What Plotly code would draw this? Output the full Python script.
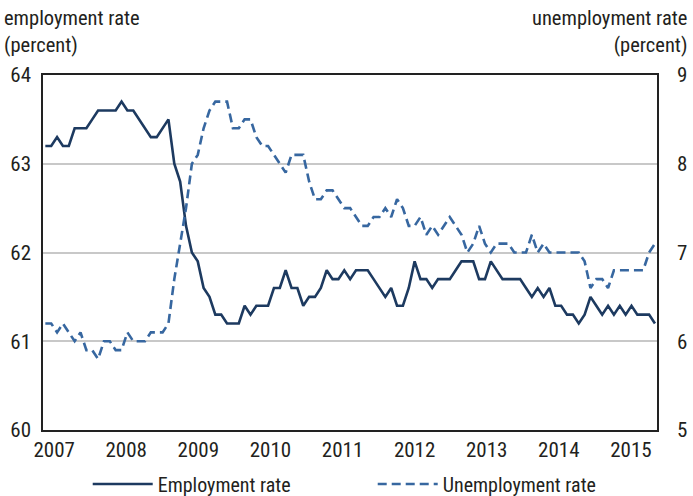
import plotly.graph_objects as go

# monthly, Jan 2007 .. Sep 2015
employment_rate = [
    63.2, 63.2, 63.3, 63.2, 63.2, 63.4, 63.4, 63.4, 63.5, 63.6, 63.6, 63.6,
    63.6, 63.7, 63.6, 63.6, 63.5, 63.4, 63.3, 63.3, 63.4, 63.5, 63.0, 62.8,
    62.3, 62.0, 61.9, 61.6, 61.5, 61.3, 61.3, 61.2, 61.2, 61.2, 61.4, 61.3,
    61.4, 61.4, 61.4, 61.6, 61.6, 61.8, 61.6, 61.6, 61.4, 61.5, 61.5, 61.6,
    61.8, 61.7, 61.7, 61.8, 61.7, 61.8, 61.8, 61.8, 61.7, 61.6, 61.5, 61.6,
    61.4, 61.4, 61.6, 61.9, 61.7, 61.7, 61.6, 61.7, 61.7, 61.7, 61.8, 61.9,
    61.9, 61.9, 61.7, 61.7, 61.9, 61.8, 61.7, 61.7, 61.7, 61.7, 61.6, 61.5,
    61.6, 61.5, 61.6, 61.4, 61.4, 61.3, 61.3, 61.2, 61.3, 61.5, 61.4, 61.3,
    61.4, 61.3, 61.4, 61.3, 61.4, 61.3, 61.3, 61.3, 61.2,
]
unemployment_rate = [
    6.2, 6.2, 6.1, 6.2, 6.1, 6.0, 6.1, 5.9, 5.9, 5.8, 6.0, 6.0,
    5.9, 5.9, 6.1, 6.0, 6.0, 6.0, 6.1, 6.1, 6.1, 6.2, 6.7, 7.1,
    7.5, 8.0, 8.1, 8.4, 8.6, 8.7, 8.7, 8.7, 8.4, 8.4, 8.5, 8.5,
    8.3, 8.2, 8.2, 8.1, 8.0, 7.9, 8.1, 8.1, 8.1, 7.8, 7.6, 7.6,
    7.7, 7.7, 7.6, 7.5, 7.5, 7.4, 7.3, 7.3, 7.4, 7.4, 7.5, 7.4,
    7.6, 7.5, 7.3, 7.3, 7.4, 7.2, 7.3, 7.2, 7.3, 7.4, 7.3, 7.2,
    7.0, 7.1, 7.3, 7.1, 7.0, 7.1, 7.1, 7.1, 7.0, 7.0, 7.0, 7.2,
    7.0, 7.1, 7.0, 7.0, 7.0, 7.0, 7.0, 7.0, 6.9, 6.6, 6.7, 6.7,
    6.6, 6.8, 6.8, 6.8, 6.8, 6.8, 6.8, 7.0, 7.1,
]
year_labels = ["2007", "2008", "2009", "2010", "2011", "2012", "2013", "2014", "2015"]

month_index = list(range(len(employment_rate)))
# label positions, in months from Jan 2007
year_ticks = [1.5 + 12.3 * k for k in range(len(year_labels))]

FONT = "Liberation Sans Narrow, Arial Narrow, Roboto Condensed, DejaVu Sans Condensed, sans-serif"
NAVY = "#1d3a60"
BLUE = "#3767a0"

fig = go.Figure()
fig.add_trace(go.Scatter(
    x=month_index, y=employment_rate, name="Employment rate",
    mode="lines", line=dict(color=NAVY, width=2.6),
))
fig.add_trace(go.Scatter(
    x=month_index, y=unemployment_rate, name="Unemployment rate",
    mode="lines", line=dict(color=BLUE, width=2.6, dash="9px,5px"),
    yaxis="y2",
))

fig.update_layout(
    width=693, height=496,
    margin=dict(l=43, r=36, t=75, b=66, autoexpand=False),
    paper_bgcolor="white", plot_bgcolor="white",
    font=dict(family=FONT, size=20, color="#231f20"),
    showlegend=True,
    legend=dict(
        orientation="h", x=0.537, xanchor="center", y=-0.152, yanchor="middle",
        font=dict(size=20), entrywidth=210, itemwidth=60,
    ),
    xaxis=dict(
        range=[-0.4, 104.35], tickvals=year_ticks, ticktext=year_labels,
        showgrid=False, zeroline=False, ticks="", automargin=False,
        showline=True, linecolor="#222", linewidth=1.5, mirror=True,
        tickfont=dict(size=21),
    ),
    yaxis=dict(
        range=[60, 64], tickvals=[60, 61, 62, 63, 64],
        showgrid=True, gridcolor="#c8c8c8", gridwidth=1.5, zeroline=False,
        ticks="", ticklabelstandoff=6, automargin=False,
        showline=True, linecolor="#222", linewidth=1.5, mirror=True,
        tickfont=dict(size=21),
    ),
    yaxis2=dict(
        range=[5, 9], tickvals=[5, 6, 7, 8, 9], overlaying="y", side="right",
        showgrid=False, zeroline=False, ticks="", ticklabelstandoff=14,
        automargin=False,
        showline=True, linecolor="#222", linewidth=1.5,
        tickfont=dict(size=21),
    ),
    annotations=[
        dict(text="employment rate<br>(percent)", xref="paper", yref="paper",
             x=-0.067, y=1.2, xanchor="left", yanchor="top", align="left",
             showarrow=False, font=dict(size=20.5)),
        dict(text="unemployment rate<br>(percent)", xref="paper", yref="paper",
             x=1.052, y=1.2, xanchor="right", yanchor="top", align="right",
             showarrow=False, font=dict(size=20.5)),
    ],
)

# the page's default body margin would shift the fixed-size figure
fig.write_html(
    "out.html",
    config={"displayModeBar": False},
    post_script="document.body.style.margin='0';",
)
